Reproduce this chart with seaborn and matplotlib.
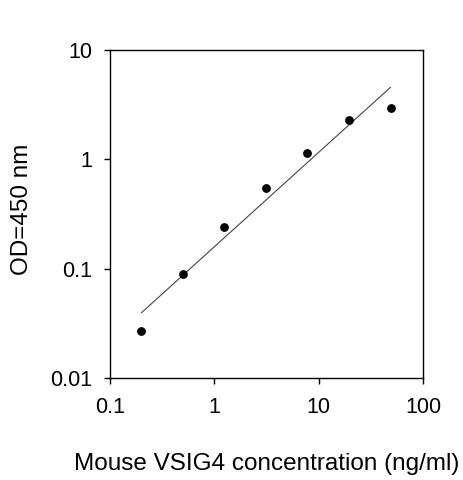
import matplotlib
matplotlib.use("Agg")
import matplotlib.pyplot as plt
import seaborn as sns
import pandas as pd
from matplotlib.ticker import FixedLocator, FixedFormatter, NullLocator

# measured standard points
conc = [0.2, 0.5, 1.25, 3.125, 7.8125, 19.53, 48.83]
od = [0.027, 0.089, 0.24, 0.55, 1.15, 2.31, 2.93]

# fitted line end points
fit_x = [0.2, 48.83]
fit_y = [0.0395, 4.56]

x_ticks = [0.1, 1, 10, 100]
x_labels = ["0.1", "1", "10", "100"]
y_ticks = [0.01, 0.1, 1, 10]
y_labels = ["0.01", "0.1", "1", "10"]

sns.set_style("ticks")
plt.rcParams['font.family'] = ['Liberation Sans', 'DejaVu Sans']

df = pd.DataFrame({"conc": conc, "od": od})
fit = pd.DataFrame({"conc": fit_x, "od": fit_y})

fig = plt.figure(figsize=(4.63, 4.80), dpi=100)
ax = fig.add_axes([0.2376, 0.2125, 0.676, 0.6833])

sns.lineplot(data=fit, x="conc", y="od", ax=ax, color="#444444", lw=0.8)
sns.scatterplot(data=df, x="conc", y="od", ax=ax, color="black", s=40,
                edgecolor="black", linewidth=0, zorder=3)

ax.set_xscale("log")
ax.set_yscale("log")
ax.set_xlim(0.1, 100)
ax.set_ylim(0.01, 10)

ax.xaxis.set_major_locator(FixedLocator(x_ticks))
ax.xaxis.set_major_formatter(FixedFormatter(x_labels))
ax.yaxis.set_major_locator(FixedLocator(y_ticks))
ax.yaxis.set_major_formatter(FixedFormatter(y_labels))
ax.xaxis.set_minor_locator(NullLocator())
ax.yaxis.set_minor_locator(NullLocator())

for sp in ax.spines.values():
    sp.set_visible(True)
    sp.set_linewidth(1.0)
    sp.set_color("black")

ax.tick_params(axis="both", direction="out", length=4, width=1.0,
               color="black", labelsize=15.5, labelcolor="black")
ax.tick_params(axis="x", pad=10)
ax.tick_params(axis="y", pad=9)

ax.set_xlabel("Mouse VSIG4 concentration (ng/ml)", fontsize=17.5, color="black")
ax.set_ylabel("OD=450 nm", fontsize=17.5, color="black")
ax.xaxis.set_label_coords(0.5, -0.229)
ax.yaxis.set_label_coords(-0.246, 0.515)

fig.savefig("out.png", dpi=100)
